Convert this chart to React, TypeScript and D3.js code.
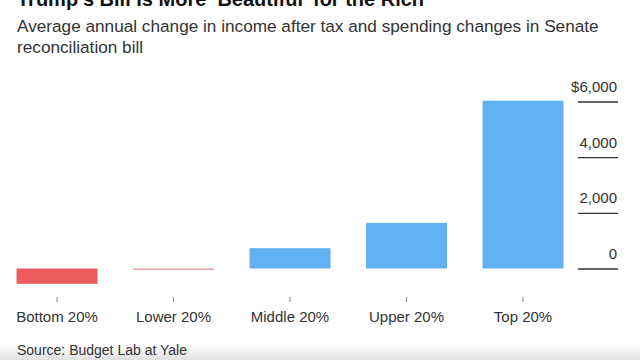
import React from "react";
import * as d3 from "d3";

const categories = ["Bottom 20%", "Lower 20%", "Middle 20%", "Upper 20%", "Top 20%"];
const values = [-550, -50, 730, 1640, 6030];
const yTicks = [0, 2000, 4000, 6000];
const yTickLabels = ["0", "2,000", "4,000", "$6,000"];

const W = 640;
const H = 360;
const FONT = "'Liberation Sans', Arial, Helvetica, sans-serif";

export default function App() {
  const x = d3.scaleBand<string>().domain(categories).range([-19, 599]).padding(0.305);
  const y = d3.scaleLinear().domain([0, 6000]).range([268.5, 101.5]);

  return (
    <svg
      width={W}
      height={H}
      style={{ position: "absolute", left: 0, top: 0, background: "#fff" }}
      fontFamily={FONT}
    >
      <defs>
        <linearGradient id="band" x1="0" y1="0" x2="0" y2="1">
          <stop offset="0" stopColor="#ffffff" />
          <stop offset="1" stopColor="#e0e0e0" />
        </linearGradient>
      </defs>
      <rect x={0} y={0} width={W} height={H} fill="#fff" />
      <text x={17} y={6} fontSize={20} fontWeight="bold" fill="#111">
        Trump’s Bill Is More ‘Beautiful’ for the Rich
      </text>
      <text x={17} y={31.5} fontSize={17.2} fill="#333">
        Average annual change in income after tax and spending changes in Senate
      </text>
      <text x={17} y={53} fontSize={17.2} fill="#333">
        reconciliation bill
      </text>

      {yTicks.map((t, i) => (
        <g key={t}>
          <line x1={578} x2={618} y1={y(t) + 0.5} y2={y(t) + 0.5} stroke="#333" strokeWidth={1.3} />
          <text x={617} y={y(t) - 9.5} fontSize={15} textAnchor="end" fill="#333">
            {yTickLabels[i]}
          </text>
        </g>
      ))}

      {categories.map((c, i) => {
        const v = values[i];
        const y0 = Math.min(y(0), y(v));
        const h = Math.max(Math.abs(y(v) - y(0)), 1.5);
        return (
          <rect
            key={c}
            x={x(c)!}
            y={y0}
            width={x.bandwidth()}
            height={h}
            fill={v < 0 ? (Math.abs(v) < 100 ? "#e8a0a5" : "#ec5b5d") : "#62b1f2"}
          />
        );
      })}

      {categories.map((c) => {
        const cx = x(c)! + x.bandwidth() / 2;
        return (
          <g key={c}>
            <line x1={cx} x2={cx} y1={297} y2={302} stroke="#888" strokeWidth={1} />
            <text x={cx} y={322} fontSize={15} textAnchor="middle" fill="#333">
              {c}
            </text>
          </g>
        );
      })}

      <rect x={0} y={345} width={W} height={15} fill="url(#band)" />
      <text x={17} y={354.5} fontSize={14} fill="#333">
        Source: Budget Lab at Yale
      </text>
    </svg>
  );
}
